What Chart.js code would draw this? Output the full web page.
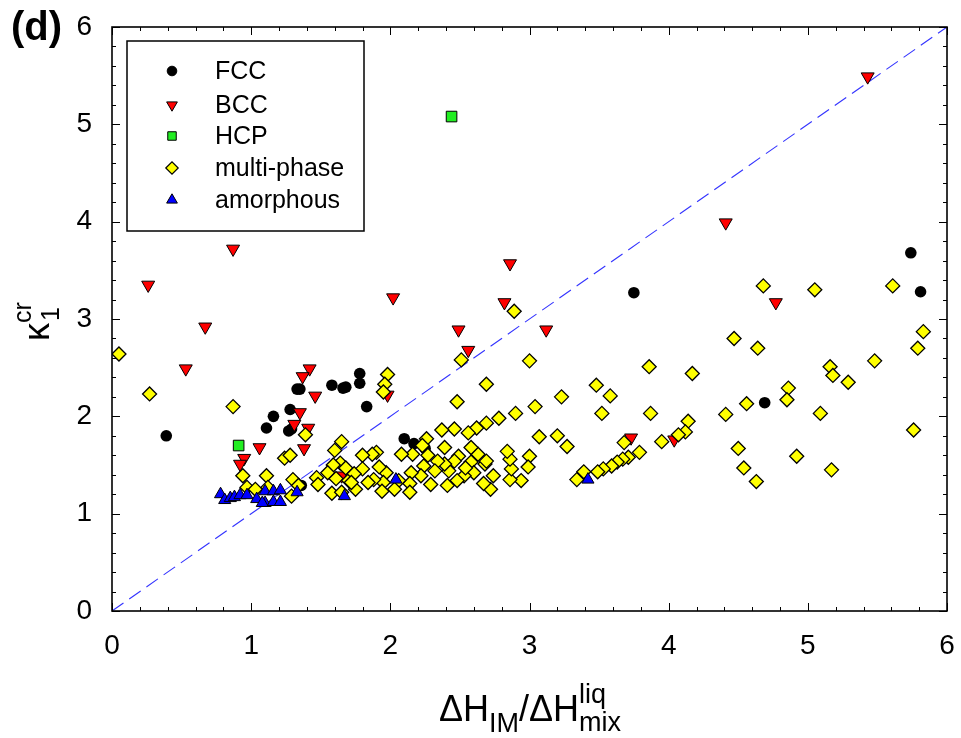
<!DOCTYPE html>
<html>
<head>
<meta charset="utf-8">
<script src="https://cdn.jsdelivr.net/npm/chart.js@4.4.1/dist/chart.umd.min.js"></script>
<style>
  html, body { margin:0; padding:0; background:#fff; }
  #wrap { position:relative; width:961px; height:738px; font-family:"Liberation Sans", Arial, sans-serif; color:#000; }
  #c { position:absolute; left:0; top:0; }
  .lbl { position:absolute; white-space:nowrap; line-height:1; }
  .sb, .sp { position:relative; }
  .stk { position:relative; display:inline-block; height:0; }
  .stk span { position:absolute; left:0; line-height:1; }
</style>
</head>
<body>
<div id="wrap">
  <canvas id="c" width="961" height="738"></canvas>
  <div class="lbl" id="panel" style="left:11px; top:6px; font-size:40px; font-weight:bold;">(d)</div>
  <div class="lbl" id="xTitle" style="left:529px; top:691px; font-size:36px; transform:translateX(-50%);">ΔH<span class="sb" style="font-size:27px; top:11px;">IM</span>/ΔH<span class="stk" style="width:40px; font-size:27px;"><span style="bottom:13px;">liq</span><span style="bottom:-15px;">mix</span></span></div>
  <div class="lbl" id="yTitle" style="left:37px; top:319px; font-size:36px; transform:translate(-50%,-50%) rotate(-90deg);">κ<span class="stk" style="width:26px; font-size:25px;"><span style="bottom:-14px; left:2px;">1</span><span style="bottom:14px;">cr</span></span></div>
</div>
<script>
const X_TICKS = [0, 1, 2, 3, 4, 5, 6];
const Y_TICKS = [0, 1, 2, 3, 4, 5, 6];
const MINOR_STEP = 0.2;

const FCC = [
  [0.39,1.80],[1.11,1.88],[1.16,2.00],[1.28,2.07],[1.27,1.85],[1.29,1.87],[1.33,2.28],[1.35,2.28],
  [1.58,2.32],[1.66,2.29],[1.68,2.30],[1.36,1.29],[1.78,2.44],[1.78,2.34],[1.83,2.10],[2.10,1.77],
  [2.17,1.72],[2.25,1.67],[3.75,3.27],[5.74,3.68],[5.81,3.28],[4.69,2.14]
];
const BCC = [
  [0.26,3.35],[0.67,2.92],[0.53,2.49],[0.87,3.72],[1.42,2.49],[1.37,2.41],[1.46,2.21],[1.35,2.04],
  [1.31,1.92],[1.41,1.88],[1.38,1.67],[1.06,1.68],[0.95,1.57],[0.92,1.51],[1.65,1.39],[2.02,3.22],
  [2.49,2.89],[2.56,2.68],[2.86,3.57],[2.82,3.17],[3.12,2.89],[4.41,3.99],[4.77,3.17],[5.43,5.49],
  [3.73,1.78],[4.04,1.76],[1.98,2.22]
];
const HCP = [[2.44,5.08],[0.91,1.70]];
const MULTI = [
  [0.05,2.64],[0.27,2.23],[0.87,2.10],[1.39,1.81],[0.94,1.39],[1.11,1.39],[1.24,1.57],[1.28,1.60],
  [0.97,1.27],[1.03,1.25],[1.12,1.27],[1.30,1.35],[1.29,1.18],[1.34,1.29],[1.65,1.74],[1.60,1.65],
  [1.64,1.52],[1.59,1.50],[1.68,1.47],[1.47,1.37],[1.55,1.42],[1.61,1.36],[1.48,1.30],[1.58,1.21],
  [1.65,1.22],[1.70,1.34],
  [1.98,2.43],[1.96,2.33],[1.95,2.25],[2.51,2.58],[3.00,2.57],[2.69,2.33],[2.48,2.15],[3.23,2.20],
  [3.04,2.10],[2.90,2.03],[2.78,1.98],[2.69,1.93],[2.62,1.88],[2.56,1.83],[2.46,1.87],[2.37,1.86],
  [2.26,1.77],[2.39,1.68],[2.23,1.70],[3.07,1.79],[3.20,1.80],[3.27,1.69],[3.34,1.35],[3.00,1.59],
  [2.99,1.48],[2.94,1.34],[2.86,1.35],[2.87,1.46],[2.86,1.56],[2.84,1.64],[2.74,1.39],[2.72,1.25],
  [2.68,1.51],[2.69,1.54],[2.67,1.31],[2.63,1.61],[2.58,1.68],[2.58,1.53],[2.60,1.42],[2.53,1.39],
  [2.54,1.47],[2.49,1.59],[2.46,1.54],[2.48,1.34],[2.41,1.29],[2.42,1.44],[2.39,1.51],[2.34,1.54],
  [2.32,1.44],[2.29,1.30],[2.27,1.60],[2.24,1.49],[2.22,1.39],[2.16,1.61],[2.15,1.42],[2.14,1.31],
  [2.14,1.22],[2.08,1.61],[2.06,1.34],[2.03,1.25],[1.97,1.42],[1.95,1.32],[1.94,1.23],[1.92,1.48],
  [1.90,1.63],[1.87,1.61],[1.88,1.35],[1.84,1.32],[1.80,1.60],[1.80,1.46],[1.75,1.25],[1.74,1.41],
  [1.72,1.32],
  [4.68,3.34],[5.05,3.30],[5.61,3.34],[5.83,2.87],[5.79,2.70],[4.47,2.80],[4.64,2.70],[3.86,2.51],
  [4.17,2.44],[3.48,2.32],[3.58,2.21],[3.52,2.03],[3.87,2.03],[4.41,2.02],[4.56,2.13],[4.86,2.29],
  [4.85,2.17],[5.09,2.03],[5.16,2.51],[5.18,2.42],[5.29,2.35],[5.48,2.57],[5.76,1.86],[4.14,1.95],
  [4.12,1.84],[4.07,1.81],[3.95,1.74],[3.79,1.63],[3.68,1.73],[3.71,1.58],[3.67,1.56],[3.63,1.53],
  [3.59,1.49],[3.53,1.46],[3.49,1.43],[3.39,1.43],[4.50,1.67],[4.54,1.47],[4.63,1.33],[4.92,1.59],
  [5.17,1.45],[2.89,3.08]
];
const AMORPH = [
  [0.78,1.20],[0.81,1.14],[0.85,1.16],[0.88,1.17],[0.92,1.19],[0.97,1.19],[1.04,1.15],[1.10,1.23],
  [1.10,1.11],[1.08,1.11],[1.16,1.23],[1.16,1.12],[1.21,1.24],[1.21,1.12],[1.33,1.22],[1.67,1.18],
  [2.04,1.35],[3.42,1.35]
];
const DIAG = [[0,0],[6,6]];

function pts(arr){ return arr.map(p => ({ x:p[0], y:p[1] })); }

// legend entries: label, marker
const LEGEND = [
  { label:"FCC", style:{ pointStyle:"circle", radius:4.8, rotation:0, borderWidth:1 }, fill:"#000000" },
  { label:"BCC", style:{ pointStyle:"triangle", radius:6.2, rotation:180, borderWidth:1 }, fill:"#ff0000" },
  { label:"HCP", style:{ pointStyle:"rect", radius:6, rotation:0, borderWidth:1 }, fill:"#22ee22" },
  { label:"multi-phase", style:{ pointStyle:"rectRot", radius:6.2, rotation:0, borderWidth:1.2 }, fill:"#ffff00" },
  { label:"amorphous", style:{ pointStyle:"triangle", radius:6.2, rotation:0, borderWidth:1 }, fill:"#0000ff" }
];

const framePlugin = {
  id: "frame",
  afterDraw(chart){
    const { ctx, chartArea:a, scales } = chart;
    const sx = scales.x, sy = scales.y;
    ctx.save();
    ctx.strokeStyle = "#000";
    ctx.lineWidth = 1;
    ctx.beginPath();
    const nx = Math.round((X_TICKS[X_TICKS.length-1] - X_TICKS[0]) / MINOR_STEP);
    for(let i = 0; i <= nx; i++){
      const len = (i % 5 === 0) ? 8 : 4;
      const px = Math.round(sx.getPixelForValue(X_TICKS[0] + i*MINOR_STEP)) + 0.5;
      ctx.moveTo(px, a.bottom); ctx.lineTo(px, a.bottom - len);
      ctx.moveTo(px, a.top); ctx.lineTo(px, a.top + len);
    }
    const ny = Math.round((Y_TICKS[Y_TICKS.length-1] - Y_TICKS[0]) / MINOR_STEP);
    for(let i = 0; i <= ny; i++){
      const len = (i % 5 === 0) ? 8 : 4;
      const py = Math.round(sy.getPixelForValue(Y_TICKS[0] + i*MINOR_STEP)) + 0.5;
      ctx.moveTo(a.left, py); ctx.lineTo(a.left + len, py);
      ctx.moveTo(a.right, py); ctx.lineTo(a.right - len, py);
    }
    ctx.stroke();
    ctx.lineWidth = 1.6;
    ctx.strokeRect(a.left, a.top, a.right - a.left, a.bottom - a.top);

    // legend box
    const lx = 127, ly = 41, lw = 237, lh = 190;
    ctx.fillStyle = "#fff";
    ctx.fillRect(lx, ly, lw, lh);
    ctx.lineWidth = 1.5;
    ctx.strokeRect(lx, ly, lw, lh);
    const rows = [71, 105, 136, 168, 200];
    ctx.font = "25px 'Liberation Sans', Arial, sans-serif";
    ctx.textBaseline = "middle";
    LEGEND.forEach((e, i) => {
      ctx.fillStyle = e.fill;
      ctx.strokeStyle = "#000";
      ctx.lineWidth = e.style.borderWidth;
      Chart.helpers.drawPoint(ctx, e.style, 172, rows[i]);
      ctx.fillStyle = "#000";
      ctx.fillText(e.label, 215, rows[i] + 1);
    });
    ctx.restore();
  }
};

const tickFont = { family:"'Liberation Sans', Arial, sans-serif", size:28 };

new Chart(document.getElementById("c"), {
  type: "scatter",
  data: {
    datasets: [
      { label:"amorphous", data:pts(AMORPH), pointStyle:"triangle", pointRadius:7, pointRotation:0,
        backgroundColor:"#0000ff", borderColor:"#000", borderWidth:1, order:0 },
      { label:"multi-phase", data:pts(MULTI), pointStyle:"rectRot", pointRadius:7, 
        backgroundColor:"#ffff00", borderColor:"#000", borderWidth:1.3, order:1 },
      { label:"HCP", data:pts(HCP), pointStyle:"rect", pointRadius:7.5,
        backgroundColor:"#22ee22", borderColor:"#000", borderWidth:1, order:2 },
      { label:"BCC", data:pts(BCC), pointStyle:"triangle", pointRadius:7.5, pointRotation:180,
        backgroundColor:"#ff0000", borderColor:"#000", borderWidth:1, order:3 },
      { label:"FCC", data:pts(FCC), pointStyle:"circle", pointRadius:5.8,
        backgroundColor:"#000000", borderColor:"#000", borderWidth:0, order:4 },
      { type:"line", label:"diag", data:pts(DIAG), borderColor:"#3333ff", borderWidth:1.1,
        borderDash:[14,7], pointRadius:0, fill:false, order:5 }
    ]
  },
  options: {
    responsive:false,
    animation:false,
    devicePixelRatio:1,
    layout:{ padding:{ left:0, right:14, top:27, bottom:0 } },
    plugins:{ legend:{ display:false }, tooltip:{ enabled:false } },
    scales:{
      x:{
        type:"linear", min:X_TICKS[0], max:X_TICKS[X_TICKS.length-1],
        afterBuildTicks(s){ s.ticks = X_TICKS.map(v => ({ value:v })); },
        afterFit(s){ s.height = 127; s.paddingLeft = 0; s.paddingRight = 0; },
        grid:{ display:false, drawTicks:false },
        border:{ display:false },
        ticks:{ font:tickFont, color:"#000", padding:18, maxRotation:0 }
      },
      y:{
        type:"linear", min:Y_TICKS[0], max:Y_TICKS[Y_TICKS.length-1],
        afterBuildTicks(s){ s.ticks = Y_TICKS.map(v => ({ value:v })); },
        afterFit(s){ s.width = 112; s.paddingTop = 0; s.paddingBottom = 0; },
        grid:{ display:false, drawTicks:false },
        border:{ display:false },
        ticks:{ font:tickFont, color:"#000", padding:20 }
      }
    }
  },
  plugins:[framePlugin]
});
</script>
</body>
</html>
